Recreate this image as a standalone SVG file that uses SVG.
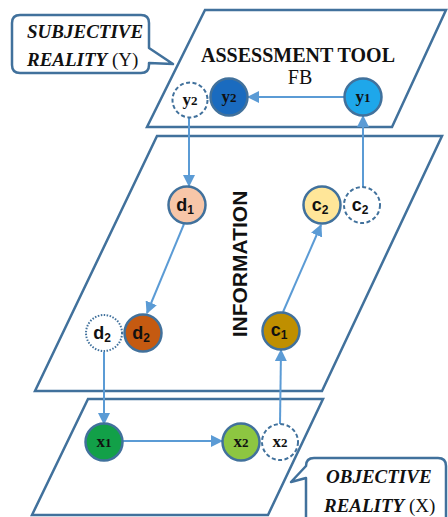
<svg xmlns="http://www.w3.org/2000/svg" width="448" height="517" viewBox="0 0 448 517">
<defs>
<style>
.plane{fill:#fff;stroke:#41719c;stroke-width:2.5;stroke-linejoin:miter}
.call{fill:#fff;stroke:#41719c;stroke-width:2.5;stroke-linejoin:round}
.con{stroke:#5b9bd5;stroke-width:2;fill:none}
.node{stroke:#41719c;stroke-width:2.5}
.ghost{fill:#fff;stroke:#41719c;stroke-width:2;stroke-dasharray:4 2.5}
.dot{fill:#fff;stroke:#41719c;stroke-width:2;stroke-dasharray:1.5 1.5}
.serif{font-family:"Liberation Serif","Times New Roman",serif;fill:#111}
.sans{font-family:"Liberation Sans",Arial,sans-serif;font-weight:bold;fill:#111}
.lbl{font-family:"Liberation Serif","Times New Roman",serif;font-weight:bold;font-size:17px;fill:#111;text-anchor:middle}
.sl{font-family:"Liberation Sans",Arial,sans-serif;font-weight:bold;font-size:18px;fill:#111;text-anchor:middle}
</style>
<marker id="ah" markerWidth="12" markerHeight="12" refX="11" refY="6" orient="auto" markerUnits="userSpaceOnUse">
<path d="M0,0 L12,6 L0,12 Z" fill="#5b9bd5"/>
</marker>
</defs>

<g id="plane-top"><polygon class="plane" points="205,10 446,10 392,127 147,127"/></g>
<g id="plane-mid"><polygon class="plane" points="157,136 442,136 322,391 35,391"/></g>
<g id="plane-bot"><polygon class="plane" points="88,399 323,399 268,515 32,515"/></g>

<g id="callout-subjective">
<path class="call" d="M20,15 H141 Q149,15 149,23 V48 L173,64 L149,63 V65 Q149,73 141,73 H20 Q12,73 12,65 V23 Q12,15 20,15 Z"/>
<text class="serif" x="27" y="38" font-size="19" font-weight="bold" font-style="italic">SUBJECTIVE</text>
<text class="serif" x="27" y="66" font-size="19"><tspan font-style="italic" font-weight="bold">REALITY</tspan> (Y)</text>
</g>

<g id="callout-objective">
<path class="call" d="M314,458 H438 Q446,458 446,466 V520 H306 V478 L291,482 L306,466 Q306,458 314,458 Z"/>
<text class="serif" x="326" y="483" font-size="19" font-weight="bold" font-style="italic">OBJECTIVE</text>
<text class="serif" x="324" y="512" font-size="19"><tspan font-style="italic" font-weight="bold">REALITY</tspan> (X)</text>
</g>

<g id="title-assessment">
<text class="serif" x="298" y="62" font-size="20" font-weight="bold" text-anchor="middle">ASSESSMENT TOOL</text>
<text class="serif" x="300" y="84" font-size="20" text-anchor="middle">FB</text>
</g>
<g id="title-information">
<text class="sans" font-size="21" text-anchor="middle" transform="translate(247,264) rotate(-90)">INFORMATION</text>
</g>

<g id="connectors">
<line class="con" x1="345" y1="97" x2="248" y2="97" marker-end="url(#ah)"/>
<line class="con" x1="189" y1="118" x2="189" y2="186" marker-end="url(#ah)"/>
<line class="con" x1="184" y1="224" x2="147" y2="313" marker-end="url(#ah)"/>
<line class="con" x1="104" y1="352" x2="104" y2="424" marker-end="url(#ah)"/>
<line class="con" x1="122" y1="441" x2="222" y2="441" marker-end="url(#ah)"/>
<line class="con" x1="280" y1="424" x2="281" y2="350" marker-end="url(#ah)"/>
<line class="con" x1="283" y1="312" x2="321" y2="225" marker-end="url(#ah)"/>
<line class="con" x1="363" y1="187" x2="363" y2="116" marker-end="url(#ah)"/>
</g>

<g id="node-y2-ghost"><circle class="ghost" cx="190" cy="100" r="17.5"/><text class="lbl" x="190" y="105">y<tspan font-size="13">2</tspan></text></g>
<g id="node-y2"><circle class="node" cx="229" cy="97" r="18.5" fill="#1a6bbf"/><text class="lbl" x="229" y="102">y<tspan font-size="13">2</tspan></text></g>
<g id="node-y1"><circle class="node" cx="363" cy="97" r="18.5" fill="#1ea7ea"/><text class="lbl" x="363" y="102">y<tspan font-size="13">1</tspan></text></g>

<g id="node-d1"><circle class="node" cx="187" cy="205" r="18.5" fill="#f7c6a8"/><text class="sl" x="185" y="211">d<tspan font-size="12" dy="3">1</tspan></text></g>
<g id="node-c2"><circle class="node" cx="322" cy="205" r="18.5" fill="#ffe699"/><text class="sl" x="320" y="211">c<tspan font-size="12" dy="3">2</tspan></text></g>
<g id="node-c2-ghost"><circle class="ghost" cx="362" cy="205" r="18"/><text class="sl" x="360" y="211">c<tspan font-size="12" dy="3">2</tspan></text></g>

<g id="node-d2-ghost"><circle class="dot" cx="104" cy="333" r="18"/><text class="sl" x="102" y="339">d<tspan font-size="12" dy="3">2</tspan></text></g>
<g id="node-d2"><circle class="node" cx="143" cy="333" r="18.5" fill="#c55a11"/><text class="sl" x="141" y="339">d<tspan font-size="12" dy="3">2</tspan></text></g>
<g id="node-c1"><circle class="node" cx="281" cy="331" r="18.5" fill="#bf8f00"/><text class="sl" x="279" y="336" font-size="17">c<tspan font-size="12" dy="3">1</tspan></text></g>

<g id="node-x1"><circle class="node" cx="104" cy="442" r="18.5" fill="#12a048"/><text class="lbl" x="104" y="447">x<tspan font-size="13">1</tspan></text></g>
<g id="node-x2"><circle class="node" cx="241" cy="442" r="18.5" fill="#8dc641"/><text class="lbl" x="241" y="447">x<tspan font-size="13">2</tspan></text></g>
<g id="node-x2-ghost"><circle class="ghost" cx="280" cy="442" r="18"/><text class="lbl" x="280" y="447">x<tspan font-size="13">2</tspan></text></g>
</svg>
